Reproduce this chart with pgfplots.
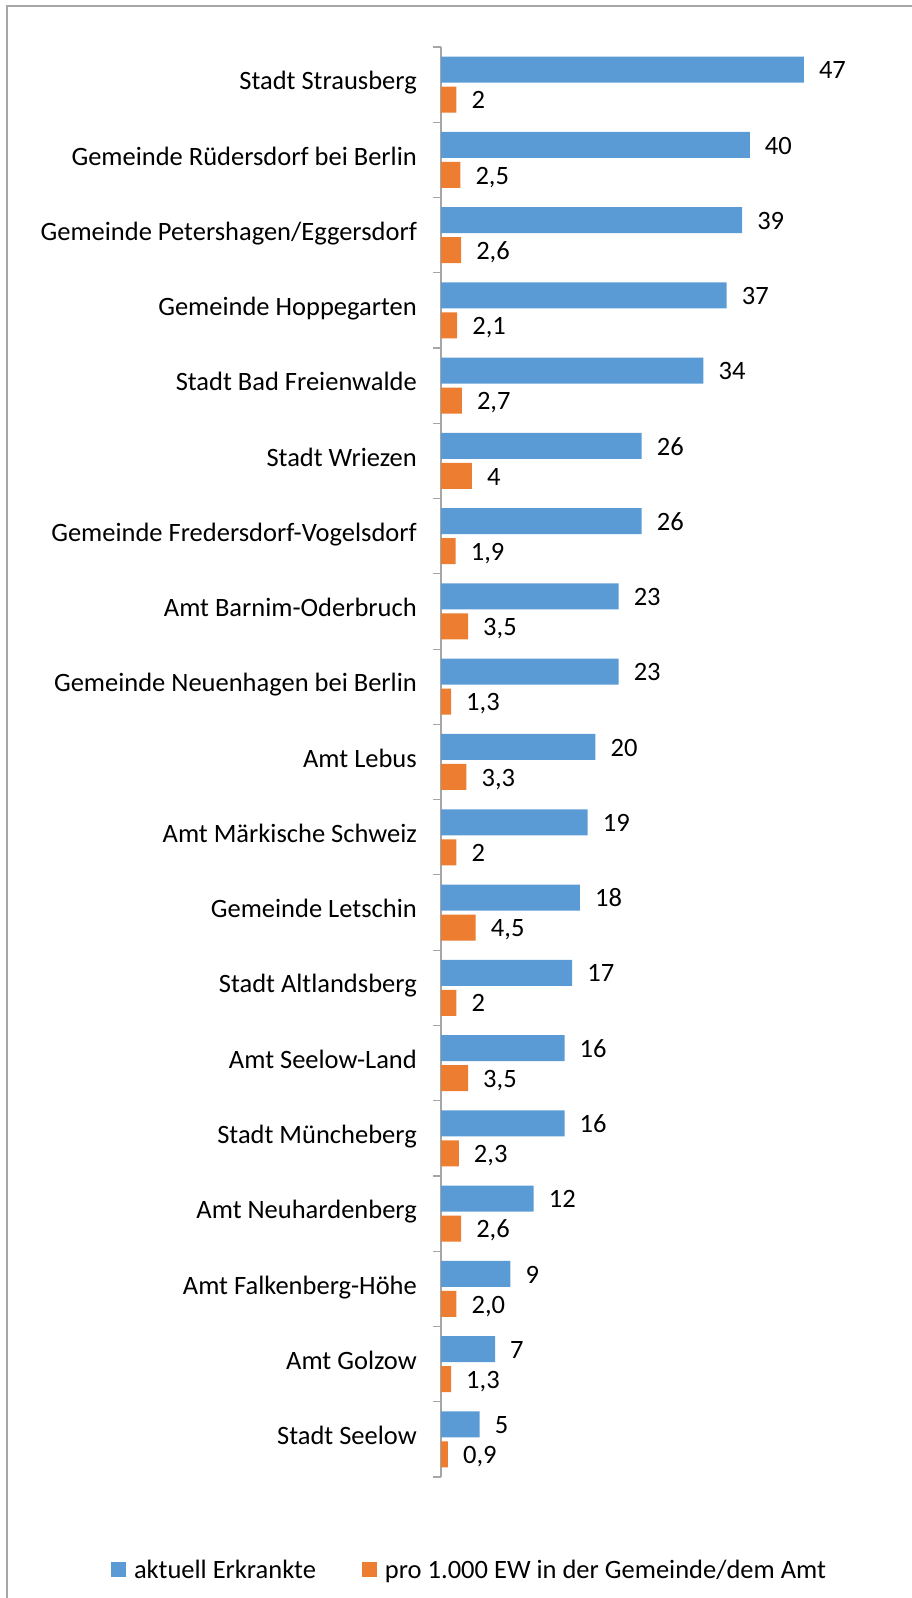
\documentclass[border=0pt]{standalone}
\usepackage{fontspec}
\setmainfont{Carlito}
\usepackage{pgfplots}
\pgfplotsset{compat=1.18}
\usepackage{pgfplotstable}
\definecolor{cblue}{HTML}{5B9BD5}
\definecolor{corange}{HTML}{ED7D31}
\definecolor{cgray}{HTML}{A6A6A6}

\pgfplotstableread{
y v l
18 47 47
17 40 40
16 39 39
15 37 37
14 34 34
13 26 26
12 26 26
11 23 23
10 23 23
9 20 20
8 19 19
7 18 18
6 17 17
5 16 16
4 16 16
3 12 12
2 9 9
1 7 7
0 5 5
}\bluedata

\pgfplotstableread{
y v l
18 2 2
17 2.5 2,5
16 2.6 2,6
15 2.1 2,1
14 2.7 2,7
13 4 4
12 1.9 1,9
11 3.5 3,5
10 1.3 1,3
9 3.3 3,3
8 2 2
7 4.5 4,5
6 2 2
5 3.5 3,5
4 2.3 2,3
3 2.6 2,6
2 2.0 2,0
1 1.3 1,3
0 0.9 0,9
}\orangedata

\begin{document}
\begin{tikzpicture}
\path[use as bounding box] (0pt,0pt) rectangle (912pt,1598pt);
\draw[cgray, line width=1.6pt] (7pt,0pt) -- (7pt,1592pt) -- (912pt,1592pt);
\begin{axis}[
  at={(441pt,121pt)}, anchor=south west,
  scale only axis, width=386pt, height=1430pt,
  xbar, bar width=26pt,
  xmin=0, xmax=50, ymin=-0.5, ymax=18.5,
  clip=false,
  axis x line=none,
  axis y line=left,
  y axis line style={-, draw=cgray, line width=1.2pt},
  ytick={0,...,18},
  yticklabels={Stadt Seelow, Amt Golzow, Amt Falkenberg-Höhe, Amt Neuhardenberg, Stadt Müncheberg, Amt Seelow-Land, Stadt Altlandsberg, Gemeinde Letschin, Amt Märkische Schweiz, Amt Lebus, Gemeinde Neuenhagen bei Berlin, Amt Barnim-Oderbruch, Gemeinde Fredersdorf-Vogelsdorf, Stadt Wriezen, Stadt Bad Freienwalde, Gemeinde Hoppegarten, Gemeinde Petershagen/Eggersdorf, Gemeinde Rüdersdorf bei Berlin, Stadt Strausberg},
  major tick length=0pt,
  minor ytick={-0.5,0.5,...,18.5},
  minor tick length=8pt,
  tick align=outside,
  minor tick style={draw=cgray, line width=1.2pt},
  yticklabel style={anchor=east, inner sep=0pt, xshift=-24pt, yshift=-2pt, font=\fontsize{26.5}{32}\selectfont, text height=0.64em, text depth=0pt},
  point meta=explicit symbolic,
  nodes near coords,
  nodes near coords style={anchor=west, inner sep=0pt, xshift=15pt, yshift=-6pt, font=\fontsize{26.5}{32}\selectfont, text height=0.64em, text depth=0pt, black},
  legend columns=2,
  legend style={draw=none, fill=none, at={(0.0738,-0.065)}, anchor=center,
    font=\fontsize{26.5}{32}\selectfont,
    /tikz/every even column/.append style={column sep=44pt}},
]
\addplot[fill=cblue, draw=none, bar shift=15pt,
  legend image code/.code={\fill[cblue] (0pt,-7.5pt) rectangle (15pt,7.5pt); \path (21pt,0pt);}]
  table[x=v, y=y, meta=l] {\bluedata};
\addlegendentry{aktuell Erkrankte}
\addplot[fill=corange, draw=none, bar shift=-15pt,
  legend image code/.code={\fill[corange] (0pt,-7.5pt) rectangle (15pt,7.5pt); \path (21pt,0pt);}]
  table[x=v, y=y, meta=l] {\orangedata};
\addlegendentry{pro 1.000 EW in der Gemeinde/dem Amt}
\end{axis}
\end{tikzpicture}
\end{document}
